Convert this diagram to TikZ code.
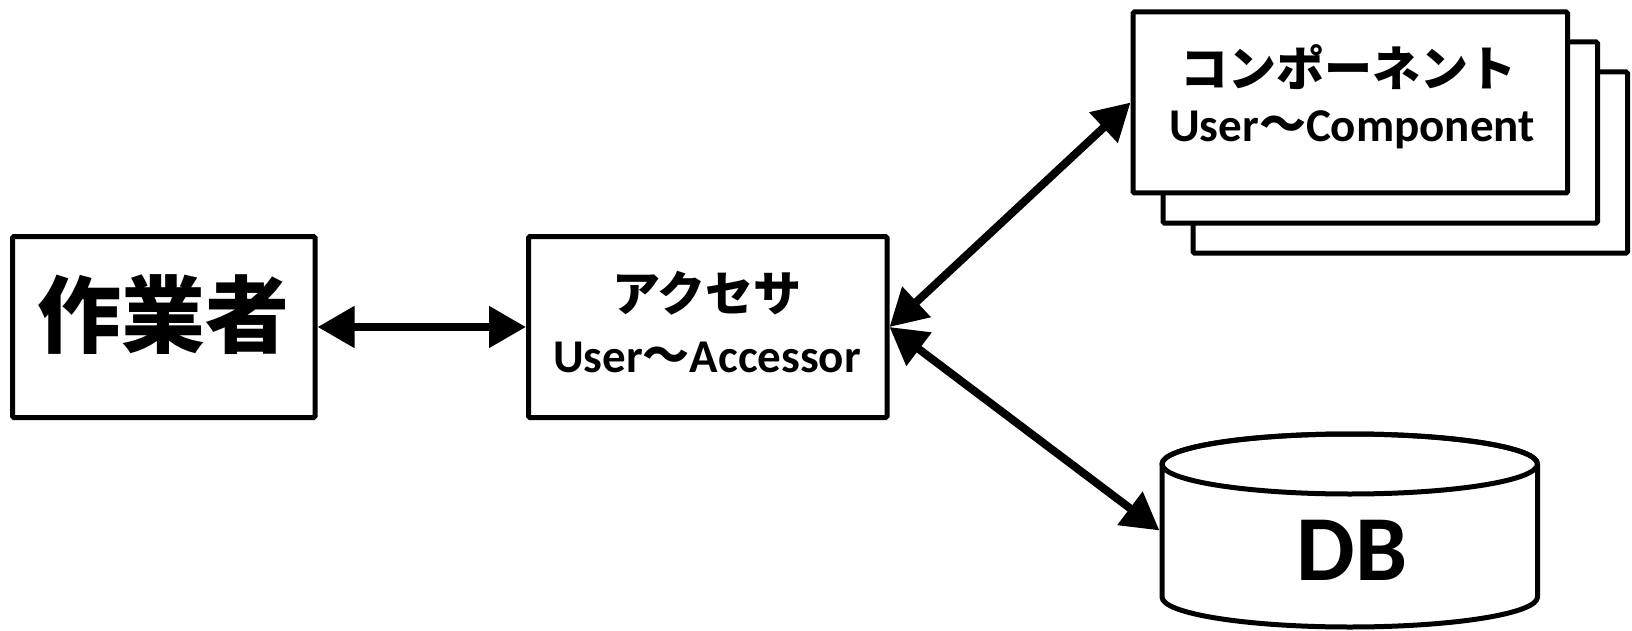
\documentclass[tikz,border=0pt]{standalone}
\usepackage{fontspec}
\setmainfont{Carlito}
\newfontfamily\jpfont{Noto Sans CJK JP}
\usetikzlibrary{arrows.meta}
\newcommand{\wavesep}{{\jpfont\bfseries 〜}}
\tikzset{
  box/.style={draw, line width=5pt, fill=white, inner sep=0pt, rounded corners=1.5pt,
              minimum height=181pt},
  txt/.style={inner sep=0pt, anchor=base, font=\bfseries},
  jptxt/.style={inner sep=0pt, anchor=base},
  link/.style={line width=8pt,
               {Triangle[length=37pt,width=40pt]}-{Triangle[length=37pt,width=40pt]}},
  dbline/.style={line width=5pt, line join=round}
}
\begin{document}
\begin{tikzpicture}[x=1pt,y=-1pt]
\useasboundingbox (0,0) rectangle (1632,631);

% worker
\node[box, minimum width=302.5pt] (worker) at (163.75,327) {};
\node[jptxt, font=\jpfont\bfseries\fontsize{84}{90}\selectfont] (workerlbl)
  at (163,346) {作業者};

% accessor
\node[box, minimum width=358.5pt] (acc) at (707.75,327) {};
\node[jptxt, font=\jpfont\bfseries\fontsize{48}{52}\selectfont] (accjp)
  at (707,311) {アクセサ};
\node[txt, font=\bfseries\fontsize{47}{52}\selectfont] (accen)
  at (707,372) {User\wavesep Accessor};

% stacked components
\node[box, minimum width=434.5pt] (comp3) at (1410.25,162.5) {};
\node[box, minimum width=434.5pt] (comp2) at (1380.25,132.5) {};
\node[box, minimum width=434.5pt] (comp) at (1350.25,102.5) {};
\node[jptxt, font=\jpfont\bfseries\fontsize{48}{52}\selectfont] (compjp)
  at (1348,87) {コンポーネント};
\node[txt, font=\bfseries\fontsize{47}{52}\selectfont] (compen)
  at (1352,142) {User\wavesep Component};

% database cylinder (body between the two ellipse centres)
\node[inner sep=0pt, outer sep=0pt, minimum width=375.5pt, minimum height=133pt]
  (db) at (1349.75,530.5) {};
\draw[dbline, fill=white] (db.north west) -- (db.south west)
  arc[start angle=180, end angle=360, x radius=187.75pt, y radius=30pt]
  -- (db.north east)
  arc[start angle=0, end angle=180, x radius=187.75pt, y radius=30pt] -- cycle;
\draw[dbline] (db.north) ellipse[x radius=187.75pt, y radius=30pt];
\node[txt, font=\bfseries\fontsize{93}{100}\selectfont] (dblbl) at (1352,580) {DB};

% connectors
\draw[link] (worker.east) -- (acc.west);
\draw[link] (acc.east) -- (comp.west);
\draw[link] (acc.east) -- ([xshift=-2.5pt]db.west);
\end{tikzpicture}
\end{document}
